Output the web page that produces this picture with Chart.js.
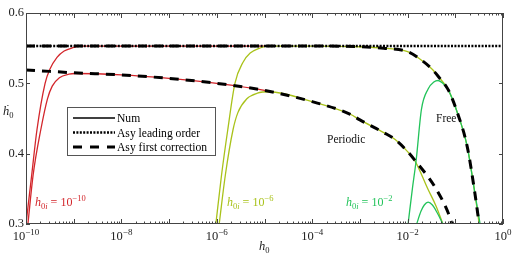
<!DOCTYPE html>
<html>
<head>
<meta charset="utf-8">
<script src="https://cdn.jsdelivr.net/npm/chart.js@4.4.1/dist/chart.umd.min.js"></script>
<style>
  html, body { margin: 0; padding: 0; background: #fff; }
</style>
</head>
<body>
<canvas id="hdot" width="513" height="256"></canvas>
<script>
// values: x given as log10(h0), y is hdot0

// asymptotics
var leadLogH = [-10, 0];
var leadY = [0.553, 0.553];

var freeAsyLogH = [-10, -4, -3, -2.5, -2, -1.75, -1.5, -1.36, -1.15, -0.96, -0.75, -0.59, -0.5];
var freeAsyY = [0.553, 0.553, 0.552, 0.550, 0.545, 0.535, 0.521, 0.510, 0.491, 0.459, 0.410, 0.344, 0.300];

var perAsyLogH = [-10, -9.5, -9, -8, -7, -6, -5, -4, -3.2, -3, -2.5, -2.26, -2, -1.84, -1.43, -1.15, -1.07];
var perAsyY = [0.519, 0.517, 0.515, 0.512, 0.507, 0.500, 0.490, 0.474, 0.456, 0.448, 0.430, 0.420, 0.403, 0.390, 0.353, 0.316, 0.300];

// numerical, h0i = 1e-10
var redFreeLogH = [-10, -9.88, -9.77, -9.6, -9.5, -9.35, -9.2, -9, -8.87, -4.8];
var redFreeY = [0.300, 0.370, 0.434, 0.500, 0.520, 0.537, 0.546, 0.551, 0.553, 0.553];
var redPerLogH = [-9.96, -9.85, -9.69, -9.55, -9.45, -9.3, -9.1, -8.97, -8, -7, -6, -5, -4.8];
var redPerY = [0.300, 0.370, 0.434, 0.478, 0.496, 0.508, 0.513, 0.514, 0.512, 0.507, 0.500, 0.490, 0.487];

// numerical, h0i = 1e-6
var yelFreeLogH = [-6.02, -5.9, -5.77, -5.62, -5.45, -5.3, -5.1, -4.95, -4, -3, -2.5, -2, -1.75, -1.5, -1.36, -1.15, -0.96, -0.75, -0.59, -0.5];
var yelFreeY = [0.300, 0.370, 0.434, 0.500, 0.530, 0.543, 0.550, 0.553, 0.553, 0.552, 0.550, 0.545, 0.535, 0.521, 0.510, 0.491, 0.459, 0.410, 0.344, 0.300];
var yelPerLogH = [-5.95, -5.82, -5.66, -5.56, -5.37, -5.15, -4.9, -4, -3.2, -3, -2.5, -2.26, -2, -1.84, -1.57, -1.4, -1.26];
var yelPerY = [0.300, 0.370, 0.434, 0.458, 0.478, 0.486, 0.488, 0.474, 0.456, 0.448, 0.430, 0.420, 0.403, 0.389, 0.349, 0.325, 0.300];

// numerical, h0i = 1e-2
var grnFreeLogH = [-1.99, -1.9, -1.82, -1.71, -1.57, -1.45, -1.36, -1.26, -1.15, -0.96, -0.75, -0.59, -0.48];
var grnFreeY = [0.300, 0.350, 0.391, 0.463, 0.492, 0.502, 0.504, 0.500, 0.491, 0.459, 0.410, 0.344, 0.300];
var grnPerLogH = [-1.81, -1.72, -1.65, -1.57, -1.48, -1.38, -1.26];
var grnPerY = [0.300, 0.318, 0.327, 0.331, 0.327, 0.316, 0.300];

var xTickExp = [-10, -9, -8, -7, -6, -5, -4, -3, -2, -1, 0];
var xLabelExp = [-10, -8, -6, -4, -2, 0];
var yTicks = [0.3, 0.4, 0.5, 0.6];

var RED = '#d3262b', YEL = '#a9c21a', GRN = '#22c35a';
var SERIF = '"Liberation Serif", "DejaVu Serif", serif';

function pts(logs, ys) {
    return logs.map(function (l, i) { return { x: Math.pow(10, l), y: ys[i] }; });
}

function curve(logs, ys, color, width, dash) {
    return {
        data: pts(logs, ys),
        borderColor: color,
        borderWidth: width,
        borderDash: dash || [],
        borderCapStyle: 'butt',
        pointRadius: 0,
        showLine: true,
        fill: false,
        cubicInterpolationMode: 'monotone'
    };
}

// draw a run of text pieces: [text, size, italic, dy]
function textWidth(ctx, parts) {
    var w = 0;
    parts.forEach(function (p) {
        ctx.font = (p[2] ? 'italic ' : '') + p[1] + 'px ' + SERIF;
        w += ctx.measureText(p[0]).width;
    });
    return w;
}
function runText(ctx, x, y, color, parts) {
    ctx.fillStyle = color;
    ctx.textBaseline = 'alphabetic';
    ctx.textAlign = 'left';
    parts.forEach(function (p) {
        ctx.font = (p[2] ? 'italic ' : '') + p[1] + 'px ' + SERIF;
        ctx.fillText(p[0], x, y + (p[3] || 0));
        x += ctx.measureText(p[0]).width;
    });
}

function h0iLabel(ctx, x, y, color, exp) {
    runText(ctx, x, y, color, [
        ['h', 12, true], ['0', 8.5, false, 3], ['i', 8.5, true, 3],
        [' = 10', 12, false], ['\u2212' + Math.abs(exp), 8.5, false, -5]
    ]);
}

var decor = {
    id: 'decor',
    afterDatasetsDraw: function (chart) {
        var ctx = chart.ctx, a = chart.chartArea;
        var xs = chart.scales.x, ys = chart.scales.y;
        ctx.save();

        // frame + inward ticks
        ctx.strokeStyle = '#444';
        ctx.lineWidth = 1;
        ctx.setLineDash([]);
        ctx.strokeRect(a.left + 0.5, a.top + 0.5, a.right - a.left - 1, a.bottom - a.top - 1);
        ctx.beginPath();
        xTickExp.forEach(function (e) {
            for (var m = 1; m < 10; m++) {
                var v = m * Math.pow(10, e);
                if (v > 1.0001) break;
                var px = Math.round(xs.getPixelForValue(v)) + 0.5;
                var len = m === 1 ? 5 : 2.5;
                ctx.moveTo(px, a.bottom); ctx.lineTo(px, a.bottom - len);
                ctx.moveTo(px, a.top); ctx.lineTo(px, a.top + len);
            }
        });
        yTicks.forEach(function (v) {
            var py = Math.round(ys.getPixelForValue(v)) + 0.5;
            ctx.moveTo(a.left, py); ctx.lineTo(a.left + 4, py);
            ctx.moveTo(a.right, py); ctx.lineTo(a.right - 4, py);
        });
        ctx.stroke();

        // x tick labels 10^e
        xLabelExp.forEach(function (e) {
            var parts = [['10', 12.5, false], [(e < 0 ? '\u2212' : '') + Math.abs(e), 9, false, -5]];
            var w = textWidth(ctx, parts);
            var cx = xs.getPixelForValue(Math.pow(10, e));
            runText(ctx, cx - w / 2, a.bottom + 16, '#222', parts);
        });

        // legend box
        ctx.fillStyle = '#fff';
        ctx.fillRect(67.5, 107.5, 148, 48);
        ctx.strokeStyle = '#555';
        ctx.strokeRect(67.5, 107.5, 148, 48);
        var rows = [
            ['Num', 1.3, []],
            ['Asy leading order', 2.6, [2, 1.4]],
            ['Asy first correction', 3, [9, 8]]
        ];
        var rowY = [118, 132.5, 147];
        rows.forEach(function (r, i) {
            ctx.beginPath();
            ctx.strokeStyle = '#000';
            ctx.lineWidth = r[1];
            ctx.setLineDash(r[2]);
            ctx.moveTo(73, rowY[i]);
            ctx.lineTo(115, rowY[i]);
            ctx.stroke();
            runText(ctx, 117, rowY[i] + 4, '#000', [[r[0], 11.6, false]]);
        });
        ctx.setLineDash([]);

        // annotations
        h0iLabel(ctx, 35, 206, RED, -10);
        h0iLabel(ctx, 227, 206, YEL, -6);
        h0iLabel(ctx, 346, 206, GRN, -2);
        runText(ctx, 327, 143, '#111', [['Periodic', 11.5, false]]);
        runText(ctx, 436, 122, '#111', [['Free', 11.5, false]]);

        // axis titles
        runText(ctx, 3, 115, '#222', [['\u1E23', 12.5, true], ['0', 8.5, false, 3]]);
        runText(ctx, 259, 250, '#222', [['h', 12.5, true], ['0', 8.5, false, 3]]);
        ctx.restore();
    }
};

new Chart(document.getElementById('hdot'), {
    type: 'scatter',
    data: {
        datasets: [
            curve(perAsyLogH, perAsyY, '#000', 3, [9, 7]),
            curve(freeAsyLogH, freeAsyY, '#000', 3, [9, 7]),
            curve(leadLogH, leadY, '#000', 2.6, [2, 1.4]),
            curve(grnFreeLogH, grnFreeY, GRN, 1.3),
            curve(grnPerLogH, grnPerY, GRN, 1.3),
            curve(yelFreeLogH, yelFreeY, YEL, 1.3),
            curve(yelPerLogH, yelPerY, YEL, 1.3),
            curve(redFreeLogH, redFreeY, RED, 1.3),
            curve(redPerLogH, redPerY, RED, 1.3)
        ]
    },
    options: {
        responsive: false,
        animation: false,
        events: [],
        layout: { padding: { top: 13, right: 10, left: 0, bottom: 0 } },
        plugins: {
            legend: { display: false },
            tooltip: { enabled: false }
        },
        scales: {
            x: {
                type: 'logarithmic',
                min: 1e-10,
                max: 1,
                grid: { display: false, drawTicks: false },
                border: { display: false },
                afterBuildTicks: function (s) {
                    s.ticks = xTickExp.map(function (e) { return { value: Math.pow(10, e) }; });
                },
                afterFit: function (s) { s.height = 32; },
                ticks: { display: false }
            },
            y: {
                min: 0.3,
                max: 0.6,
                grid: { display: false, drawTicks: false },
                border: { display: false },
                afterBuildTicks: function (s) {
                    s.ticks = yTicks.map(function (v) { return { value: v }; });
                },
                afterFit: function (s) { s.width = 26; },
                ticks: {
                    padding: 2,
                    color: '#222',
                    font: { family: SERIF, size: 12.5 },
                    callback: function (v) { return v.toFixed(1); }
                }
            }
        }
    },
    plugins: [decor]
});
</script>
</body>
</html>
